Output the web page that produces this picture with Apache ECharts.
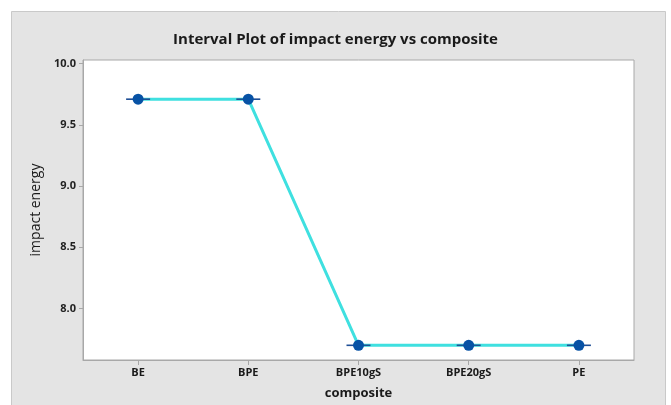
<!DOCTYPE html>
<html>
<head>
<meta charset="utf-8">
<script src="https://cdn.jsdelivr.net/npm/echarts@6/dist/echarts.min.js"></script>
<style>
html,body{margin:0;padding:0;background:#fff;}
#chart{width:671px;height:405px;}
</style>
</head>
<body>
<div id="chart"></div>
<script>
var categories = ['BE', 'BPE', 'BPE10gS', 'BPE20gS', 'PE'];
var meanValues = [9.71, 9.71, 7.70, 7.70, 7.70];
var yTickValues = [8.0, 8.5, 9.0, 9.5, 10.0];
var titleText = 'Interval Plot of impact energy vs composite';
var xAxisName = 'composite';
var yAxisName = 'impact energy';

var FONT = '"Open Sans", "Noto Sans", sans-serif';
var chart = echarts.init(document.getElementById('chart'), null, {renderer: 'canvas'});
chart.setOption({
  animation: false,
  backgroundColor: '#ffffff',
  graphic: [{
    type: 'rect',
    z: -10,
    shape: {x: 11.5, y: 11.5, width: 654, height: 400},
    style: {fill: '#e4e4e4', stroke: '#c9c9c9', lineWidth: 1}
  }],
  title: {
    text: titleText,
    left: 'center',
    top: 27,
    textStyle: {fontFamily: FONT, fontSize: 15, fontWeight: 'bold', color: '#1a1a1a'}
  },
  grid: {
    left: 83, top: 60, right: 37, bottom: 45,
    show: true, backgroundColor: '#ffffff', borderColor: '#a8a8a8', borderWidth: 1,
    containLabel: false
  },
  xAxis: {
    type: 'category',
    data: categories,
    boundaryGap: true,
    name: xAxisName,
    nameLocation: 'middle',
    nameGap: 27,
    nameTextStyle: {fontFamily: FONT, fontSize: 13, fontWeight: 'bold', color: '#1a1a1a'},
    axisLine: {show: true, lineStyle: {color: '#a8a8a8', width: 1}},
    axisTick: {show: true, alignWithLabel: true, length: 5, lineStyle: {color: '#a8a8a8'}},
    axisLabel: {fontFamily: FONT, fontSize: 11, fontWeight: 'bold', color: '#1a1a1a', margin: 7},
    splitLine: {show: false}
  },
  yAxis: {
    type: 'value',
    min: 7.58,
    max: 10.03,
    name: yAxisName,
    nameLocation: 'middle',
    nameGap: 39,
    nameRotate: 90,
    nameTextStyle: {fontFamily: FONT, fontSize: 14, color: '#1a1a1a'},
    axisLine: {show: true, lineStyle: {color: '#a8a8a8', width: 1}},
    axisTick: {show: true, length: 4, customValues: yTickValues, lineStyle: {color: '#a8a8a8'}},
    axisLabel: {
      fontFamily: FONT, fontSize: 11, fontWeight: 'bold', color: '#222222', margin: 7,
      customValues: yTickValues,
      formatter: function (v) { return v.toFixed(1); }
    },
    splitLine: {show: false}
  },
  series: [
    {
      type: 'line',
      data: meanValues,
      showSymbol: false,
      symbol: 'none',
      lineStyle: {color: '#3fe0e0', width: 3},
      z: 2
    },
    {
      type: 'scatter',
      data: meanValues,
      symbol: 'rect',
      symbolSize: [24, 1.6],
      itemStyle: {color: '#1f4f96', opacity: 1},
      z: 3
    },
    {
      type: 'scatter',
      data: meanValues,
      symbol: 'circle',
      symbolSize: 11,
      itemStyle: {color: '#0752a5', opacity: 1},
      z: 4
    }
  ]
});
</script>
</body>
</html>
